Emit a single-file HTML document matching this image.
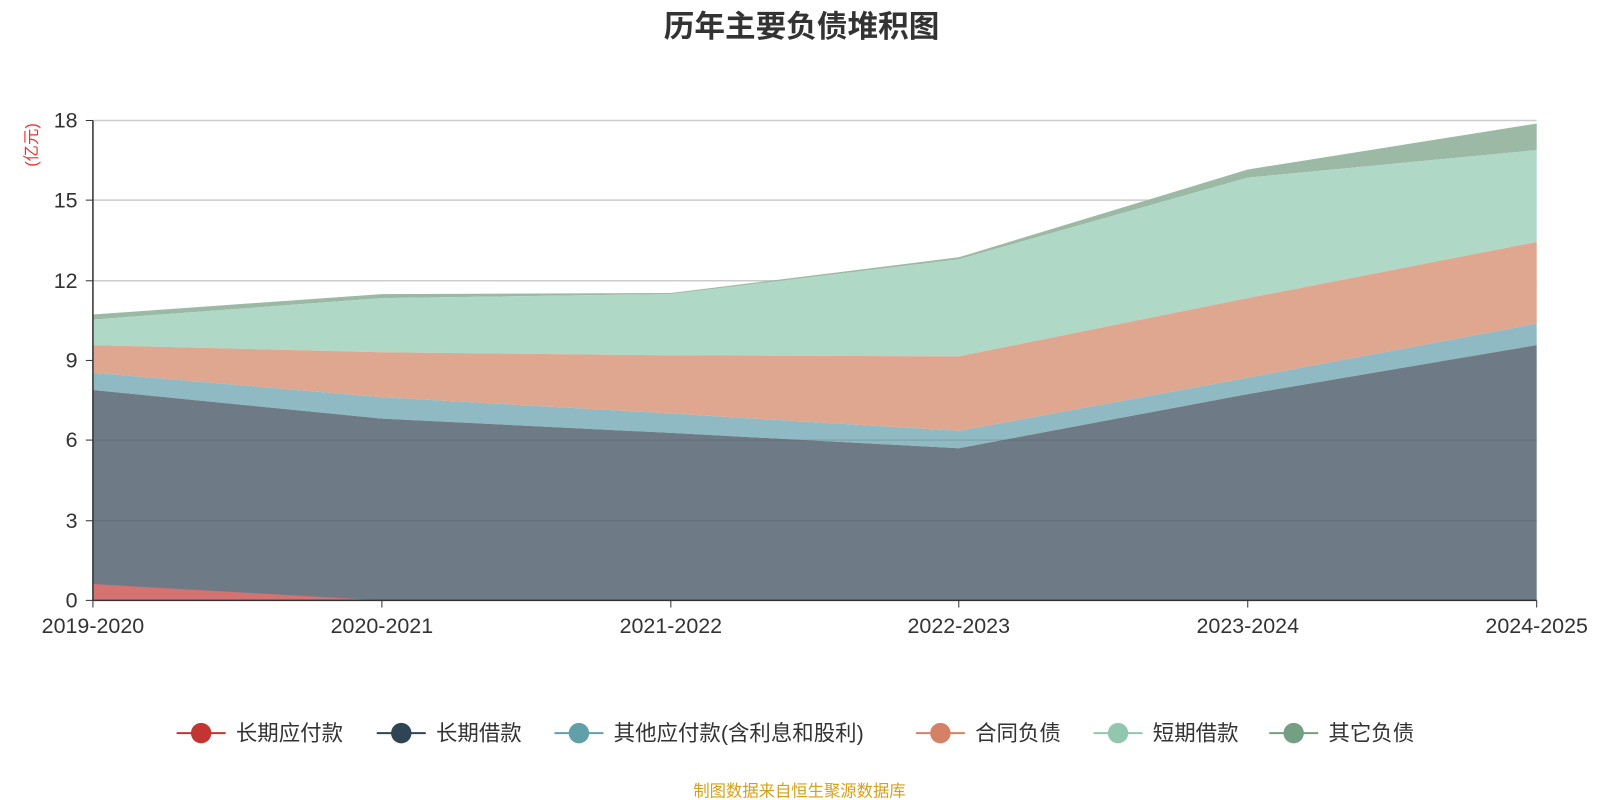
<!DOCTYPE html>
<html><head><meta charset="utf-8"><style>
body{margin:0;background:#fff;width:1600px;height:800px;overflow:hidden;font-family:"Liberation Sans","Noto Sans CJK SC",sans-serif}
svg{display:block}
</style></head><body>
<svg width="1600" height="800" viewBox="0 0 1567 783.5" xmlns="http://www.w3.org/2000/svg" font-family="Liberation Sans, Noto Sans CJK SC, sans-serif">
<text x="785" y="36" text-anchor="middle" font-size="30" font-weight="bold" fill="#333">历年主要负债堆积图</text>
<text transform="translate(36,142) rotate(-90)" text-anchor="middle" font-size="16" fill="#e33">(亿元)</text>
<g stroke="#ccc" stroke-width="1.5">
<line x1="91" y1="118" x2="1505" y2="118"/><line x1="91" y1="196" x2="1505" y2="196"/><line x1="91" y1="275" x2="1505" y2="275"/><line x1="91" y1="353" x2="1505" y2="353"/><line x1="91" y1="431" x2="1505" y2="431"/><line x1="91" y1="510" x2="1505" y2="510"/>
</g>
<polygon fill="#9cb9a5" points="91,308 374,288 657,287 939,252 1222,166 1505,121 1505,147 1222,174 939,254 657,288 374,292 91,313"/>
<polygon fill="#b0d8c6" points="91,313 374,292 657,288 939,254 1222,174 1505,147 1505,237 1222,292 939,349 657,348 374,345 91,338"/>
<polygon fill="#dfa690" points="91,338 374,345 657,348 939,349 1222,292 1505,237 1505,317 1222,370 939,422 657,405 374,389 91,365"/>
<polygon fill="#8fbac3" points="91,365 374,389 657,405 939,422 1222,370 1505,317 1505,338 1222,386 939,439 657,424 374,410 91,382"/>
<polygon fill="#6e7b87" points="91,382 374,410 657,424 939,439 1222,386 1505,338 1505,588 91,588"/>
<polygon fill="#d47371" points="91,572 374,588 91,588"/>
<g stroke="rgba(60,70,80,0.25)" stroke-width="1"><line x1="91" y1="431" x2="1505" y2="431"/><line x1="91" y1="510" x2="1505" y2="510"/></g>
<line x1="91" y1="118" x2="91" y2="588" stroke="#333" stroke-width="1.5"/>
<line x1="91" y1="588" x2="1505" y2="588" stroke="#333" stroke-width="1.5"/>
<g stroke="#333"><line x1="84" y1="118" x2="91" y2="118"/><line x1="84" y1="196" x2="91" y2="196"/><line x1="84" y1="275" x2="91" y2="275"/><line x1="84" y1="353" x2="91" y2="353"/><line x1="84" y1="431" x2="91" y2="431"/><line x1="84" y1="510" x2="91" y2="510"/><line x1="84" y1="588" x2="91" y2="588"/>
<line x1="91" y1="588" x2="91" y2="595"/><line x1="374" y1="588" x2="374" y2="595"/><line x1="657" y1="588" x2="657" y2="595"/><line x1="939" y1="588" x2="939" y2="595"/><line x1="1222" y1="588" x2="1222" y2="595"/><line x1="1505" y1="588" x2="1505" y2="595"/></g>
<g font-size="21" fill="#333" text-anchor="end"><text x="76" y="125">18</text><text x="76" y="203">15</text><text x="76" y="282">12</text><text x="76" y="360">9</text><text x="76" y="438">6</text><text x="76" y="517">3</text><text x="76" y="595">0</text></g>
<g font-size="21" fill="#333" text-anchor="middle"><text x="91" y="620">2019-2020</text><text x="374" y="620">2020-2021</text><text x="657" y="620">2021-2022</text><text x="939" y="620">2022-2023</text><text x="1222" y="620">2023-2024</text><text x="1505" y="620">2024-2025</text></g>
<g font-size="21" fill="#333">
<line x1="173" y1="718" x2="221" y2="718" stroke="#c23531" stroke-width="2"/><circle cx="197" cy="718" r="10" fill="#c23531"/><text x="231" y="725">长期应付款</text>
<line x1="369" y1="718" x2="417" y2="718" stroke="#2f4554" stroke-width="2"/><circle cx="393" cy="718" r="10" fill="#2f4554"/><text x="427" y="725">长期借款</text>
<line x1="543" y1="718" x2="591" y2="718" stroke="#61a0a8" stroke-width="2"/><circle cx="567" cy="718" r="10" fill="#61a0a8"/><text x="601" y="725">其他应付款(含利息和股利)</text>
<line x1="897" y1="718" x2="945" y2="718" stroke="#d48265" stroke-width="2"/><circle cx="921" cy="718" r="10" fill="#d48265"/><text x="955" y="725">合同负债</text>
<line x1="1071" y1="718" x2="1119" y2="718" stroke="#91c7ae" stroke-width="2"/><circle cx="1095" cy="718" r="10" fill="#91c7ae"/><text x="1129" y="725">短期借款</text>
<line x1="1243" y1="718" x2="1291" y2="718" stroke="#749f83" stroke-width="2"/><circle cx="1267" cy="718" r="10" fill="#749f83"/><text x="1301" y="725">其它负债</text>
</g>
<text x="783" y="780" text-anchor="middle" font-size="16" fill="#d4a017">制图数据来自恒生聚源数据库</text>
</svg>
</body></html>
